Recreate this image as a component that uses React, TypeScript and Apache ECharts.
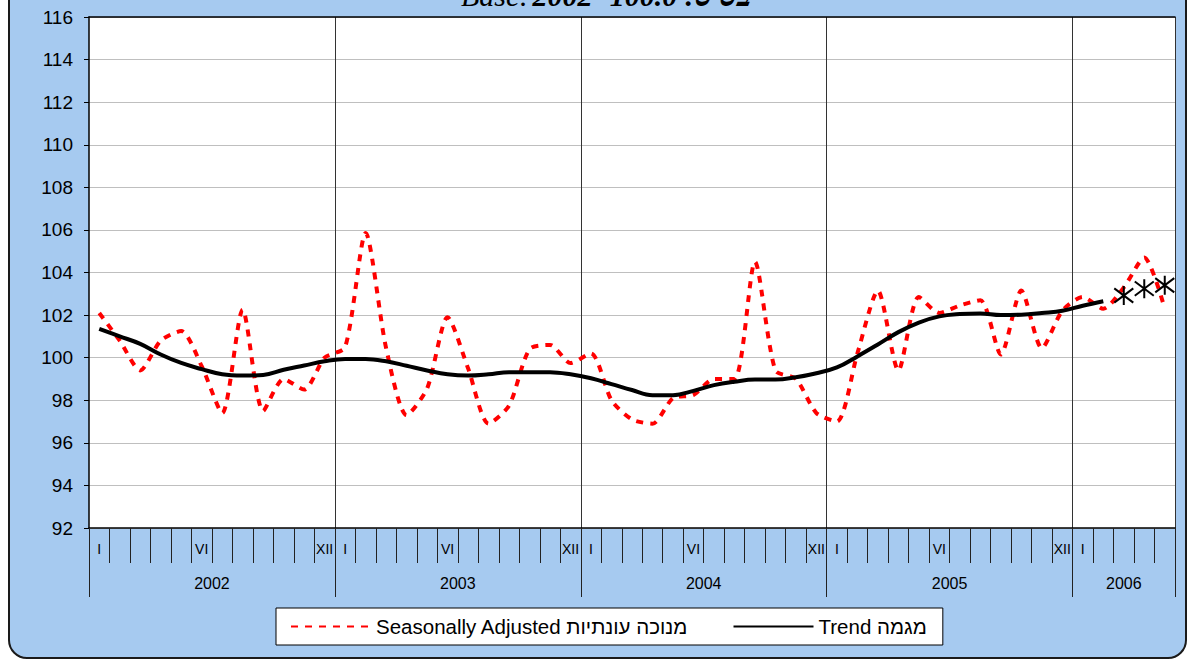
import React, { useEffect, useRef } from 'react';
import * as echarts from 'echarts';

const years = ['2002', '2003', '2004', '2005', '2006'];
const monthsPerYear = [12, 12, 12, 12, 5];
const monthNumerals = ['I', '', '', '', '', 'VI', '', '', '', '', '', 'XII'];
const yearBoundaries = [0, 12, 24, 36, 48, 53];
const yearLabelPositions = [6, 18, 30, 42, 50.5];

const seasonallyAdjusted = [
  102.1, 100.8, 99.4, 100.8, 101.25, 99.6, 97.4, 102.25, 97.5, 99.0, 98.5, 100.0,
  100.5, 105.85, 100.45, 97.3, 98.55, 101.9, 99.5, 96.9, 97.75, 100.4, 100.6, 99.75,
  100.2, 98.0, 97.1, 96.9, 98.1, 98.25, 99.0, 99.0, 104.5, 99.4, 99.0, 97.4,
  97.0, 100.2, 103.15, 99.4, 102.85, 102.1, 102.45, 102.7, 100.15, 103.15, 100.45, 102.2,
  102.85, 102.3, 103.3, 104.7, 102.3,
];

const trend = [
  101.35, 101.0, 100.65, 100.15, 99.75, 99.46, 99.22, 99.16, 99.19, 99.43, 99.63, 99.83,
  99.94, 99.94, 99.83, 99.62, 99.4, 99.22, 99.16, 99.22, 99.32, 99.32, 99.32, 99.22,
  99.03, 98.76, 98.48, 98.24, 98.24, 98.44, 98.71, 98.87, 98.97, 98.97, 99.08, 99.27,
  99.54, 100.06, 100.62, 101.2, 101.65, 101.94, 102.05, 102.08, 102.0, 102.02, 102.1, 102.2,
  102.44, 102.65,
];

const forecast = [102.92, 103.24, 103.4];
const forecastStart = 50;

const saName = 'Seasonally Adjusted מנוכה עונתיות';
const trendName = 'Trend מגמה';

const categories: string[] = [];
years.forEach((y, yi) => {
  for (let m = 0; m < monthsPerYear[yi]; m++) categories.push(`${y}-${m + 1}`);
});
const n = categories.length;
const trendData = categories.map((_, i) => (i < trend.length ? trend[i] : '-'));
const forecastData = categories.map((_, i) =>
  i >= forecastStart && i < forecastStart + forecast.length ? forecast[i - forecastStart] : '-'
);

const starPath = 'path://M8,0 L8,16 M1,2 L15,14 M1,14 L15,2';
const FONT = '"Liberation Sans", Arial, sans-serif';

export default function App() {
  const ref = useRef<HTMLDivElement>(null);
  useEffect(() => {
    if (!ref.current) return;
    const chart = echarts.init(ref.current, undefined, { renderer: 'svg' });
    chart.setOption({
      animation: false,
      backgroundColor: '#ffffff',
      textStyle: { fontFamily: FONT },
      graphic: [
        {
          type: 'rect',
          z: -1,
          silent: true,
          shape: { x: 9, y: -20, width: 1177, height: 678, r: 18 },
          style: { fill: '#A6CAF0', stroke: '#1a1a1a', lineWidth: 2 },
        },
        {
          type: 'text',
          z: 10,
          silent: true,
          x: 606,
          y: 10,
          style: {
            text: '{a|Base:} {b|2002=100.0 :בסיס}',
            align: 'center',
            verticalAlign: 'bottom',
            fill: '#000',
            rich: {
              a: { fontFamily: '"Liberation Serif", serif', fontStyle: 'italic', fontSize: 30, fill: '#000' },
              b: { fontFamily: '"Liberation Serif", serif', fontStyle: 'italic', fontWeight: 'bold', fontSize: 30, fill: '#000' },
            },
          },
        },
      ],
      grid: {
        left: 89,
        right: 13,
        top: 17,
        bottom: 132,
        show: true,
        backgroundColor: '#ffffff',
        borderWidth: 0,
      },
      legend: {
        left: 276,
        top: 608,
        data: [saName, trendName],
        backgroundColor: '#ffffff',
        borderColor: '#000',
        borderWidth: 1,
        padding: [8, 16, 8, 14],
        itemGap: 44,
        itemWidth: 80,
        itemHeight: 14,
        itemStyle: { opacity: 0 },
        textStyle: { fontSize: 20.5, color: '#000', fontFamily: FONT },
      },
      xAxis: [
        {
          type: 'category',
          data: categories,
          boundaryGap: true,
          position: 'bottom',
          axisLine: { show: true, lineStyle: { color: '#000', width: 1.5 } },
          axisTick: { show: true, interval: 0, length: 35, lineStyle: { color: '#222' } },
          axisLabel: {
            interval: 0,
            margin: 14,
            fontSize: 14,
            color: '#000',
            fontFamily: FONT,
            formatter: (_: string, index: number) => monthNumerals[index % 12],
          },
          splitLine: {
            show: true,
            interval: (index: number) => index > 0 && index % 12 === 0,
            lineStyle: { color: '#333', width: 1 },
          },
        },
        {
          type: 'value',
          min: 0,
          max: n,
          position: 'bottom',
          axisLine: { show: false },
          axisTick: { show: true, customValues: yearBoundaries, length: 69, lineStyle: { color: '#222' } },
          axisLabel: {
            customValues: yearLabelPositions,
            margin: 47,
            fontSize: 16,
            color: '#000',
            fontFamily: FONT,
            formatter: (v: number) => years[yearLabelPositions.indexOf(v)] ?? '',
          },
          splitLine: { show: false },
        },
        {
          type: 'category',
          data: categories,
          position: 'top',
          axisLine: { show: true, lineStyle: { color: '#000', width: 1.5 } },
          axisTick: { show: false },
          axisLabel: { show: false },
          splitLine: { show: false },
        },
      ],
      yAxis: {
        type: 'value',
        min: 92,
        max: 116,
        interval: 2,
        axisLine: { show: true, lineStyle: { color: '#000', width: 1.5 } },
        axisTick: { show: true, length: 5, lineStyle: { color: '#000' } },
        axisLabel: { margin: 16, fontSize: 19, color: '#000', fontFamily: FONT },
        splitLine: { show: true, lineStyle: { color: '#BFBFBF', width: 1 } },
      },
      series: [
        {
          name: saName,
          type: 'line',
          xAxisIndex: 0,
          data: seasonallyAdjusted,
          symbol: 'none',
          smooth: 0.25,
          lineStyle: { color: '#FF0000', width: 4, type: [7, 7] },
          itemStyle: { color: '#FF0000' },
          z: 3,
        },
        {
          name: trendName,
          type: 'line',
          xAxisIndex: 0,
          data: trendData,
          symbol: 'none',
          smooth: 0.4,
          lineStyle: { color: '#000000', width: 4 },
          itemStyle: { color: '#000000' },
          z: 4,
        },
        {
          name: 'forecast',
          type: 'line',
          xAxisIndex: 0,
          data: forecastData,
          symbol: starPath,
          symbolSize: 19,
          showSymbol: true,
          lineStyle: { width: 0, opacity: 0 },
          itemStyle: { color: 'rgba(0,0,0,0)', borderColor: '#000', borderWidth: 2 },
          z: 5,
        },
      ],
    });
    return () => chart.dispose();
  }, []);
  return (
    <div
      ref={ref}
      style={{ position: 'fixed', left: 0, top: 0, width: 1188, height: 660 }}
    />
  );
}
